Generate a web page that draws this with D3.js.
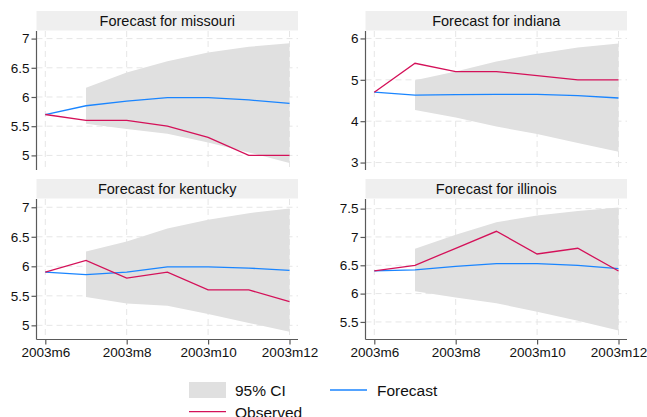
<!DOCTYPE html>
<html>
<head>
<meta charset="utf-8">
<script src="https://cdn.jsdelivr.net/npm/d3@7"></script>
<style>
  html, body { margin: 0; padding: 0; background: #fff; }
  svg { font-family: "Liberation Sans", Arial, sans-serif; display: block; }
</style>
</head>
<body>
<div id="chart"></div>
<script>
// months on the x axis
const months = ['2003m6', '2003m7', '2003m8', '2003m9', '2003m10', '2003m11', '2003m12'];
const tickMonths = ['2003m6', '2003m8', '2003m10', '2003m12'];
const ciMonths = months.slice(1);

// missouri
const missouriObserved = [5.7, 5.6, 5.6, 5.5, 5.31, 5.0, 5.0];
const missouriForecast = [5.7, 5.85, 5.93, 5.99, 5.99, 5.95, 5.89];
const missouriUpper = [6.16, 6.42, 6.61, 6.76, 6.86, 6.92];
const missouriLower = [5.54, 5.45, 5.37, 5.22, 5.05, 4.87];
const missouriTicks = [5, 5.5, 6, 6.5, 7];

// indiana
const indianaObserved = [4.7, 5.4, 5.2, 5.2, 5.1, 5.0, 5.0];
const indianaForecast = [4.7, 4.63, 4.64, 4.65, 4.65, 4.62, 4.56];
const indianaUpper = [4.99, 5.2, 5.44, 5.63, 5.78, 5.88];
const indianaLower = [4.27, 4.09, 3.87, 3.69, 3.47, 3.26];
const indianaTicks = [3, 4, 5, 6];

// kentucky
const kentuckyObserved = [5.9, 6.1, 5.8, 5.9, 5.6, 5.6, 5.4];
const kentuckyForecast = [5.9, 5.86, 5.9, 5.99, 5.99, 5.97, 5.93];
const kentuckyUpper = [6.25, 6.42, 6.64, 6.79, 6.9, 6.98];
const kentuckyLower = [5.48, 5.37, 5.33, 5.19, 5.04, 4.89];
const kentuckyTicks = [5, 5.5, 6, 6.5, 7];

// illinois
const illinoisObserved = [6.4, 6.5, 6.8, 7.1, 6.7, 6.8, 6.4];
const illinoisForecast = [6.4, 6.42, 6.48, 6.53, 6.53, 6.5, 6.44];
const illinoisUpper = [6.79, 7.04, 7.26, 7.38, 7.46, 7.52];
const illinoisLower = [6.04, 5.93, 5.83, 5.68, 5.52, 5.35];
const illinoisTicks = [5.5, 6, 6.5, 7, 7.5];

const colors = {
    ci: '#e0e0e0',
    forecast: '#1a85ff',
    observed: '#d41159',
    strip: '#efefef',
    axis: '#5a5a5a',
    grid: '#e6e6e6'
};

const width = 647, height = 417;

// panel layout (pixel boxes)
const panels = [
    { name: 'missouri', observed: missouriObserved, forecast: missouriForecast, upper: missouriUpper, lower: missouriLower,
      ticks: missouriTicks, domain: [4.75, 7.13], x0: 36.5, x1: 298, y0: 31, y1: 170, xAxis: false },
    { name: 'indiana', observed: indianaObserved, forecast: indianaForecast, upper: indianaUpper, lower: indianaLower,
      ticks: indianaTicks, domain: [2.82, 6.18], x0: 365.5, x1: 627, y0: 31, y1: 170, xAxis: false },
    { name: 'kentucky', observed: kentuckyObserved, forecast: kentuckyForecast, upper: kentuckyUpper, lower: kentuckyLower,
      ticks: kentuckyTicks, domain: [4.76, 7.14], x0: 36.5, x1: 298, y0: 199, y1: 339.5, xAxis: true },
    { name: 'illinois', observed: illinoisObserved, forecast: illinoisForecast, upper: illinoisUpper, lower: illinoisLower,
      ticks: illinoisTicks, domain: [5.19, 7.67], x0: 365.5, x1: 627, y0: 199, y1: 339.5, xAxis: true }
];

const svg = d3.select('#chart')
    .append('svg')
    .attr('width', width)
    .attr('height', height);

panels.forEach(p => {
    const g = svg.append('g').attr('class', `panel-${p.name}`);

    const x = d3.scalePoint()
        .domain(months)
        .range([p.x0 + 8.8, p.x1 - 8.5]);

    const y = d3.scaleLinear()
        .domain(p.domain)
        .range([p.y1, p.y0]);

    // title strip
    g.append('rect')
        .attr('x', p.x0)
        .attr('y', p.y0 - 20)
        .attr('width', p.x1 - p.x0)
        .attr('height', 19.5)
        .attr('fill', colors.strip);

    g.append('text')
        .attr('x', (p.x0 + p.x1) / 2)
        .attr('y', p.y0 - 5)
        .attr('text-anchor', 'middle')
        .attr('font-size', '14.5px')
        .attr('fill', '#111')
        .text(`Forecast for ${p.name}`);

    // gridlines
    g.selectAll('.hgrid')
        .data(p.ticks)
        .enter()
        .append('line')
        .attr('x1', p.x0)
        .attr('x2', p.x1)
        .attr('y1', d => y(d))
        .attr('y2', d => y(d))
        .attr('stroke', colors.grid)
        .attr('stroke-dasharray', '6,4');

    g.selectAll('.vgrid')
        .data(tickMonths)
        .enter()
        .append('line')
        .attr('x1', d => x(d))
        .attr('x2', d => x(d))
        .attr('y1', p.y0)
        .attr('y2', p.y1)
        .attr('stroke', colors.grid)
        .attr('stroke-dasharray', '6,4');

    // confidence band
    const area = d3.area()
        .x((d, i) => x(ciMonths[i]))
        .y0((d, i) => y(p.lower[i]))
        .y1(d => y(d));

    g.append('path')
        .datum(p.upper)
        .attr('d', area)
        .attr('fill', colors.ci);

    const line = d3.line()
        .x((d, i) => x(months[i]))
        .y(d => y(d));

    g.append('path')
        .datum(p.forecast)
        .attr('d', line)
        .attr('fill', 'none')
        .attr('stroke', colors.forecast)
        .attr('stroke-width', 1.3);

    g.append('path')
        .datum(p.observed)
        .attr('d', line)
        .attr('fill', 'none')
        .attr('stroke', colors.observed)
        .attr('stroke-width', 1.3);

    // y axis
    const yAxis = g.append('g')
        .attr('transform', `translate(${p.x0},0)`)
        .call(d3.axisLeft(y).tickValues(p.ticks).tickSize(5).tickPadding(2).tickFormat(d3.format('')));
    yAxis.select('.domain').attr('d', `M0,${p.y0}V${p.y1}`);
    yAxis.selectAll('line, .domain').attr('stroke', colors.axis).attr('stroke-width', 1.2);
    yAxis.selectAll('text').attr('font-size', '13.5px').attr('fill', '#111').attr('font-family', null);

    if (p.xAxis) {
        const xAxis = g.append('g')
            .attr('transform', `translate(0,${p.y1})`)
            .call(d3.axisBottom(x).tickValues(tickMonths).tickSize(5).tickPadding(3));
        xAxis.select('.domain').attr('d', `M${p.x0},0H${p.x1}`);
        xAxis.selectAll('line, .domain').attr('stroke', colors.axis).attr('stroke-width', 1.2);
        xAxis.selectAll('text').attr('font-size', '13.5px').attr('fill', '#111').attr('font-family', null);
    }
});

// legend
const legend = svg.append('g').attr('class', 'legend');

legend.append('rect')
    .attr('x', 189).attr('y', 382)
    .attr('width', 37).attr('height', 16)
    .attr('fill', colors.ci);
legend.append('text')
    .attr('x', 235).attr('y', 395.5)
    .attr('font-size', '15.5px').attr('fill', '#111')
    .text('95% CI');

legend.append('line')
    .attr('x1', 330).attr('x2', 367).attr('y1', 390).attr('y2', 390)
    .attr('stroke', colors.forecast).attr('stroke-width', 1.3);
legend.append('text')
    .attr('x', 377).attr('y', 395.5)
    .attr('font-size', '15.5px').attr('fill', '#111')
    .text('Forecast');

legend.append('line')
    .attr('x1', 189).attr('x2', 226).attr('y1', 411.7).attr('y2', 411.7)
    .attr('stroke', colors.observed).attr('stroke-width', 1.3);
legend.append('text')
    .attr('x', 235).attr('y', 417.5)
    .attr('font-size', '15.5px').attr('fill', '#111')
    .text('Observed');
</script>
</body>
</html>
